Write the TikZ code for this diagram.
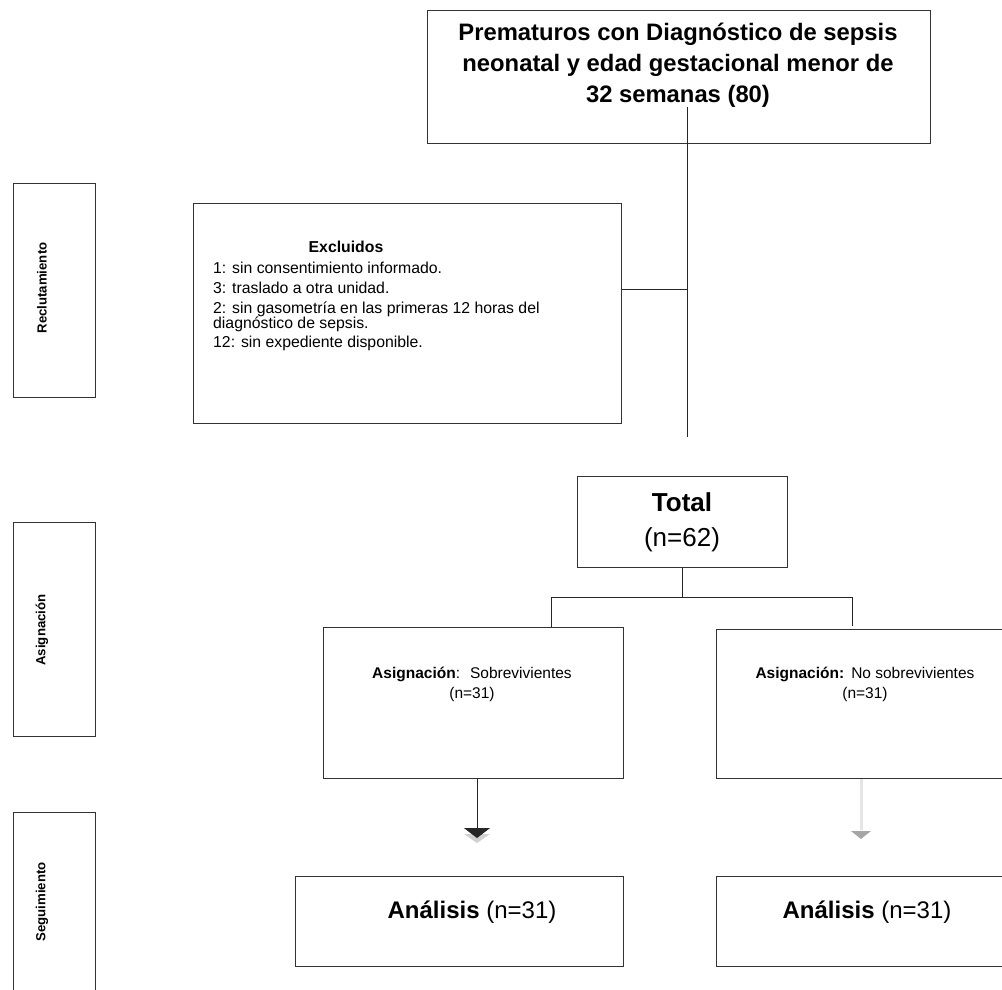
\documentclass[tikz,border=0pt]{standalone}
\usepackage{fontspec}
\setmainfont{Liberation Sans}
\usetikzlibrary{arrows.meta}
\begin{document}
\begin{tikzpicture}[x=1pt,y=-1pt,
  box/.style={draw=black!80,line width=1.1pt,fill=white,inner sep=0pt,anchor=north west},
  conn/.style={draw=black!85,line width=0.9pt},
  sidelbl/.style={font=\fontsize{13.2}{15}\selectfont\bfseries,rotate=90,inner sep=0pt},
  smalltxt/.style={font=\fontsize{15.8}{15.8}\selectfont,inner sep=0pt,anchor=base west},
  midtxt/.style={font=\fontsize{15.5}{15.5}\selectfont,inner sep=0pt,anchor=base},
  bigtxt/.style={font=\fontsize{24}{28}\selectfont,inner sep=0pt,anchor=base},
]
\useasboundingbox (0,0) rectangle (1002,989);
\clip (0,0) rectangle (1002,989);
\fill[white] (0,0) rectangle (1002,989);

% side boxes
\node[box,minimum width=82pt,minimum height=214pt] (rbox) at (13,183) {};
\node[sidelbl] (rlab) at (42,288) {Reclutamiento};
\node[box,minimum width=82pt,minimum height=214pt] (abox) at (13,522) {};
\node[sidelbl] (alab) at (42,630) {Asignación};
\node[box,minimum width=82pt,minimum height=190pt] (sbox) at (13,812) {};
\node[sidelbl] (slab) at (42,902) {Seguimiento};

% top box
\node[box,minimum width=503pt,minimum height=133pt] (top) at (427,10) {};
\node[font=\fontsize{23.8}{31}\selectfont\bfseries,align=center,inner sep=0pt] (toptxt) at (678,65)
  {Prematuros con Diagnóstico de sepsis\\neonatal y edad gestacional menor de\\32 semanas (80)};

% excluded box
\node[box,minimum width=428pt,minimum height=220pt] (exc) at (193,203) {};
\node[midtxt,font=\fontsize{15.8}{15.8}\selectfont\bfseries] (exct) at (346,252) {Excluidos};
\node[smalltxt] (e1) at (213,273) {1: sin consentimiento informado.};
\node[smalltxt] (e2) at (213,293) {3: traslado a otra unidad.};
\node[smalltxt] (e3) at (213,313) {2: sin gasometría en las primeras 12 horas del};
\node[smalltxt] (e3b) at (213,328) {diagnóstico de sepsis.};
\node[smalltxt] (e4) at (213,347) {12: sin expediente disponible.};

% total box
\node[box,minimum width=210pt,minimum height=91pt] (tot) at (577,476) {};
\node[font=\fontsize{26}{30}\selectfont\bfseries,inner sep=0pt,anchor=base] (tott) at (682,511) {Total};
\node[font=\fontsize{26}{30}\selectfont,inner sep=0pt,anchor=base] (totn) at (682,546) {(n=62)};

% assignment boxes
\node[box,minimum width=300pt,minimum height=151pt] (asl) at (323,627) {};
\node[midtxt] (aslt) at (472,678.5) {\textbf{Asignación}:\hspace{10pt}Sobrevivientes};
\node[midtxt] (asln) at (472,698.5) {(n=31)};
\node[box,minimum width=300pt,minimum height=149pt] (asr) at (716,629) {};
\node[midtxt] (asrt) at (865,678.5) {\textbf{Asignación:}\hspace{7pt}No sobrevivientes};
\node[midtxt] (asrn) at (865,698.5) {(n=31)};

% analysis boxes
\node[box,minimum width=328pt,minimum height=90pt] (anl) at (295,876) {};
\node[bigtxt] (anlt) at (472,918.5) {\textbf{Análisis} (n=31)};
\node[box,minimum width=300pt,minimum height=90pt] (anr) at (716,876) {};
\node[bigtxt] (anrt) at (867,918.5) {\textbf{Análisis} (n=31)};

% connectors
\coordinate (t1) at (687,107);
\coordinate (t2) at (687,437);
\draw[conn] (t1) -- (t2);
\coordinate (ex1) at (687,289);
\draw[conn] (exc.east |- ex1) -- (ex1);

\coordinate (spl) at (551,597);
\coordinate (spr) at (852,597);
\draw[conn] (tot.south) -- (tot.south |- spl);
\draw[conn] (asl.north -| spl) -- (spl) -- (spr) -- ([yshift=3pt]asr.north -| spr);

\coordinate (la) at (477,838);
\fill[black!18] (464,834) -- (490,834) -- (477,843) -- cycle;
\draw[conn,-{Triangle[width=26pt,length=10pt]}] (asl.south -| la) -- (la);

\coordinate (ra) at (861,838);
\draw[draw=black!10,line width=3pt] (asr.south -| ra) -- (861,830);
\fill[black!35] (851,831) -- (871,831) -- (861,839) -- cycle;
\end{tikzpicture}
\end{document}
